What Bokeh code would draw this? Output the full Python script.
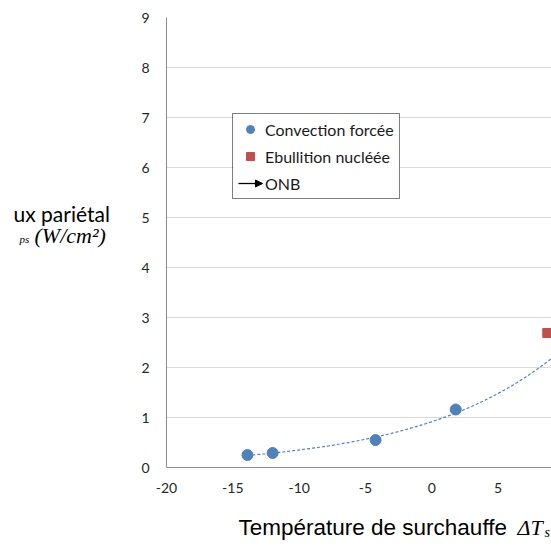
import numpy as np
from bokeh.plotting import figure
from bokeh.layouts import column, row
from bokeh.models import (Range1d, FixedTicker, Legend, LegendItem, Label, Arrow,
                          NormalHead, ColumnDataSource, BoxAnnotation)
from bokeh.embed import file_html
from bokeh.resources import INLINE

# ---- data ----
conv_x = [-13.9, -12.0, -4.24, 1.8]
conv_y = [0.25, 0.29, 0.55, 1.16]
ebn_x = [8.7]
ebn_y = [2.69]
x_ticks = [-20, -15, -10, -5, 0, 5]
x_tick_labels = ["-20", "-15", "-10", "-5", "0", "5"]
y_ticks = [0, 1, 2, 3, 4, 5, 6, 7, 8, 9]
y_tick_labels = ["0", "1", "2", "3", "4", "5", "6", "7", "8", "9"]
legend_labels = ["Convection forcée", "Ebullition nucléée", "ONB"]

BLUE = "#4F81BD"
RED = "#C0504D"
TICK_FONT = "Lato"

LEFT_W = 125
MAIN_W = 551 - LEFT_W
TOP_H = 505
BOT_H = 546 - TOP_H

# ---------------- main chart ----------------
p = figure(width=MAIN_W, height=TOP_H, x_range=Range1d(-20, 9.02), y_range=Range1d(0, 9),
           output_backend="svg", toolbar_location=None,
           min_border_left=166 - LEFT_W, min_border_right=0, min_border_top=17,
           min_border_bottom=TOP_H - 467)
p.outline_line_color = None
p.background_fill_color = "white"
p.border_fill_color = "white"

p.xgrid.visible = False
p.ygrid.ticker = FixedTicker(ticks=y_ticks)
p.ygrid.grid_line_color = "#D9D9D9"
p.ygrid.grid_line_width = 1

for ax in (p.xaxis[0], p.yaxis[0]):
    ax.axis_line_color = "#8C8C8C"
    ax.axis_line_width = 1
    ax.major_tick_line_color = None
    ax.minor_tick_line_color = None
    ax.major_tick_out = 0
    ax.major_tick_in = 0
    ax.major_label_text_font = TICK_FONT
    ax.major_label_text_font_size = "14px"
    ax.major_label_text_color = "#262626"

p.xaxis.ticker = FixedTicker(ticks=x_ticks)
p.xaxis.major_label_overrides = {t: s for t, s in zip(x_ticks, x_tick_labels)}
p.xaxis.major_label_standoff = 15
p.yaxis.ticker = FixedTicker(ticks=y_ticks)
p.yaxis.major_label_overrides = {t: s for t, s in zip(y_ticks, y_tick_labels)}
p.yaxis.major_label_standoff = 17

# exponential trend line fitted to the forced-convection points
b, a = np.polyfit(np.array(conv_x), np.log(np.array(conv_y)), 1)
tx = np.linspace(min(conv_x), 10, 200)
ty = np.exp(a + b * tx)
p.line(tx, ty, line_color=BLUE, line_width=1.2, line_dash="3 2")

src = ColumnDataSource(dict(x=conv_x, y=conv_y))
r_conv = p.scatter(x="x", y="y", source=src, marker="circle", size=11,
                   fill_color=BLUE, line_color=BLUE)
r_ebn = p.scatter(x=ebn_x, y=ebn_y, marker="square", size=9,
                  fill_color=RED, line_color=RED)
# legend-only renderer for the ONB arrow (no visible data)
r_onb = p.line(x=[np.nan], y=[np.nan], line_color="black", line_width=1.3)

# white backing for the legend (legend itself is transparent so the arrow head shows)
p.add_layout(BoxAnnotation(left=67, right=233, bottom=269, top=352,
                           left_units="screen", right_units="screen",
                           bottom_units="screen", top_units="screen",
                           fill_color="white", fill_alpha=1, line_color=None,
                           level="annotation"))

legend = Legend(items=[LegendItem(label=legend_labels[0], renderers=[r_conv]),
                       LegendItem(label=legend_labels[1], renderers=[r_ebn]),
                       LegendItem(label=legend_labels[2], renderers=[r_onb])],
                location=(66, 268))
legend.border_line_color = "black"
legend.border_line_width = 1
legend.background_fill_alpha = 0
legend.padding = 5
legend.spacing = 7
legend.margin = 0
legend.glyph_width = 24
legend.glyph_height = 20
legend.label_height = 20
legend.label_standoff = 3
legend.label_text_font = TICK_FONT
legend.label_text_font_size = "16px"
legend.label_text_color = "#1a1a1a"
p.add_layout(legend)

p.add_layout(Arrow(x_start=88, y_start=284, x_end=96, y_end=284,
                   start_units="screen", end_units="screen",
                   line_color="black", line_width=1.3, level="overlay",
                   end=NormalHead(size=7, fill_color="black", line_color="black")))


# ---------------- text panels (axis titles, cut like the reference) ----------------
def text_panel(w, h):
    f = figure(width=w, height=h, x_range=Range1d(0, w), y_range=Range1d(0, h),
               x_axis_type=None, y_axis_type=None, output_backend="svg",
               toolbar_location=None, min_border=0)
    f.grid.visible = False
    f.outline_line_color = None
    f.background_fill_color = "white"
    f.border_fill_color = "white"
    return f


def lab(f, x, y, text, font, size, style="normal"):
    f.add_layout(Label(x=x, y=y, text=text, text_font=font, text_font_size=size,
                       text_font_style=style, text_baseline="alphabetic",
                       text_color="black"))


ylab = text_panel(LEFT_W, TOP_H)
lab(ylab, 13, TOP_H - 220, "ux pariétal", "Lato", "21px")
lab(ylab, 19, TOP_H - 249, "ps", "Liberation Serif", "11px", "italic")
lab(ylab, 34, TOP_H - 245, "(W/cm²)", "Liberation Serif", "22px", "italic")

xlab = text_panel(551, BOT_H)
lab(xlab, 238, BOT_H - 22, "Température de surchauffe", "Liberation Sans", "22.5px")
lab(xlab, 517, BOT_H - 22, "ΔT", "Liberation Serif", "22px", "italic")
lab(xlab, 544, BOT_H - 27, "s", "Liberation Serif", "14px", "italic")

layout = column(row(ylab, p, spacing=0), xlab, spacing=0)
open("out.html", "w").write(file_html(layout, INLINE))
